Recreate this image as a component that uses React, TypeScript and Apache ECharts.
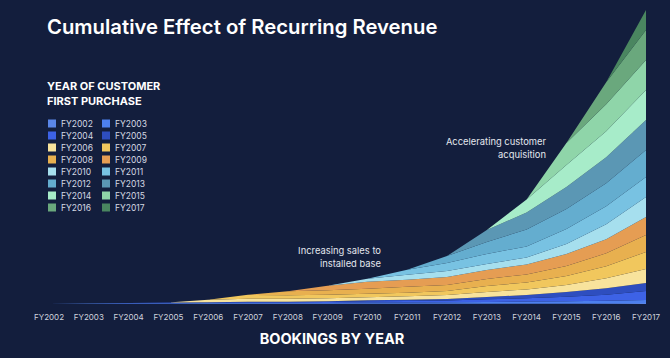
import React, { useEffect, useRef } from "react";
import * as echarts from "echarts";

const years = ["FY2002","FY2003","FY2004","FY2005","FY2006","FY2007","FY2008","FY2009","FY2010","FY2011","FY2012","FY2013","FY2014","FY2015","FY2016","FY2017"];
const cohorts = years;

// Revenue from each customer cohort (by year of first purchase), per booking year
const fy2002 = [0.1,0.3,0.3,0.3,0.3,0.3,0.3,0.3,0.4,0.4,0.4,0.5,0.5,0.6,0.7,1];
const fy2003 = [0,0.2,0.4,0.5,0.6,0.7,0.7,0.8,1,1.1,1.3,1.6,1.9,2.2,2.6,3];
const fy2004 = [0,0,0.2,0.5,0.6,0.8,0.8,1,1.3,1.5,1.8,2.6,3.3,4.5,6,9];
const fy2005 = [0,0,0,0.2,0.2,0.4,0.4,0.6,1,1.2,1.6,2.4,3.3,4.7,6.4,8];
const fy2006 = [0,0,0,0,2.5,3,3,3,3,3.5,4,5,5.5,7,10,14];
const fy2007 = [0,0,0,0,0,4,3.5,3.5,3.5,3.5,4,6,7,9,12,17];
const fy2008 = [0,0,0,0,0,0,4,4.5,5,6,6,7,8,10,13,17];
const fy2009 = [0,0,0,0,0,0,0,4.5,7,7,8,9,10,12,14,18];
const fy2010 = [0,0,0,0,0,0,0,0,3,5,6,6,7,10,15,20];
const fy2011 = [0,0,0,0,0,0,0,0,0,5,8,10,11,15,18,20];
const fy2012 = [0,0,0,0,0,0,0,0,0,0,7,12,17,20,23,27];
const fy2013 = [0,0,0,0,0,0,0,0,0,0,0,12,17,22,26,30];
const fy2014 = [0,0,0,0,0,0,0,0,0,0,0,0,13,22,26,30];
const fy2015 = [0,0,0,0,0,0,0,0,0,0,0,0,0,22,27,30];
const fy2016 = [0,0,0,0,0,0,0,0,0,0,0,0,0,0,22,30];
const fy2017 = [0,0,0,0,0,0,0,0,0,0,0,0,0,0,0,20];

const cohortValues = [fy2002,fy2003,fy2004,fy2005,fy2006,fy2007,fy2008,fy2009,fy2010,fy2011,fy2012,fy2013,fy2014,fy2015,fy2016,fy2017];

const colors = ["#5a86e8","#4d80ee","#3d62e6","#2e4ebf","#f8e39c","#f1c75d","#e8b04f","#e59d53","#a6dfee","#78c2e2","#64adcf","#5b97b4","#a7ecc9","#8fd5a9","#6aa87d","#4a8660"];

const BG = "#131e3d";

export default function App() {
  const ref = useRef<HTMLDivElement>(null);
  useEffect(() => {
    document.body.style.margin = "0";
    document.body.style.background = BG;
    const chart = echarts.init(ref.current!, null, { renderer: "svg" });
    const font = "Inter, 'Noto Sans', sans-serif";
    const series = cohorts.map((name, i) => ({
      name,
      type: "line",
      stack: "total",
      data: cohortValues[i],
      symbol: "none",
      lineStyle: { width: 0 },
      areaStyle: { color: colors[i], opacity: 1 },
      itemStyle: { color: colors[i] },
      emphasis: { disabled: true },
    }));
    const legendBase = {
      orient: "vertical",
      top: 119,
      itemWidth: 8,
      itemHeight: 8,
      itemGap: 3,
      icon: "rect",
      textStyle: { color: "#d4d8e2", fontSize: 8.5, fontFamily: font, lineHeight: 8, padding: [0, 0, 0, 0] },
      padding: 0,
    };
    const arrow = (y1: number, y2: number) => [
      { type: "line", shape: { x1: 632, y1: y1, x2: 632, y2: y2 }, style: { stroke: "#2b3657", lineWidth: 1.3 } },
      { type: "polyline", shape: { points: [[628.5, y1 + 4], [632, y1], [635.5, y1 + 4]] }, style: { stroke: "#2b3657", lineWidth: 1.3, fill: null } },
      { type: "polyline", shape: { points: [[628.5, y2 - 4], [632, y2], [635.5, y2 - 4]] }, style: { stroke: "#2b3657", lineWidth: 1.3, fill: null } },
    ];
    chart.setOption({
      animation: false,
      backgroundColor: BG,
      color: colors,
      grid: { left: 49, right: 24, top: 10, bottom: 54 },
      xAxis: {
        type: "category",
        data: years,
        boundaryGap: false,
        axisLine: { show: false },
        axisTick: { show: false },
        axisLabel: { color: "#d0d4de", fontSize: 8, fontFamily: font, margin: 9, interval: 0 },
        splitLine: { show: false },
      },
      yAxis: { type: "value", min: 0, max: 294, show: false, splitLine: { show: false } },
      legend: [
        { ...legendBase, left: 48, data: cohorts.filter((_, i) => i % 2 === 0) },
        { ...legendBase, left: 102, data: cohorts.filter((_, i) => i % 2 === 1) },
      ],
      series,
      graphic: [
        { type: "text", left: 47, top: 16, style: { text: "Cumulative Effect of Recurring Revenue", fill: "#ffffff", font: `600 20.3px ${font}` } },
        { type: "text", left: 47, top: 79, style: { text: "YEAR OF CUSTOMER\nFIRST PURCHASE", fill: "#ffffff", font: `bold 11px ${font}`, lineHeight: 14.5 } },
        { type: "text", x: 381, y: 244, style: { text: "Increasing sales to\ninstalled base", fill: "#e4e7ee", font: `9.4px ${font}`, align: "right", lineHeight: 13 } },
        { type: "text", x: 546, y: 135, style: { text: "Accelerating customer\nacquisition", fill: "#e4e7ee", font: `9.4px ${font}`, align: "right", lineHeight: 13 } },
        { type: "text", x: 332, y: 331, style: { text: "BOOKINGS BY YEAR", fill: "#ffffff", font: `bold 14.5px ${font}`, align: "center" } },
        ...arrow(103, 128),
        ...arrow(132, 159),
      ],
    });
    return () => chart.dispose();
  }, []);
  return <div ref={ref} style={{ position: "fixed", left: 0, top: 0, width: 670, height: 358 }} />;
}
